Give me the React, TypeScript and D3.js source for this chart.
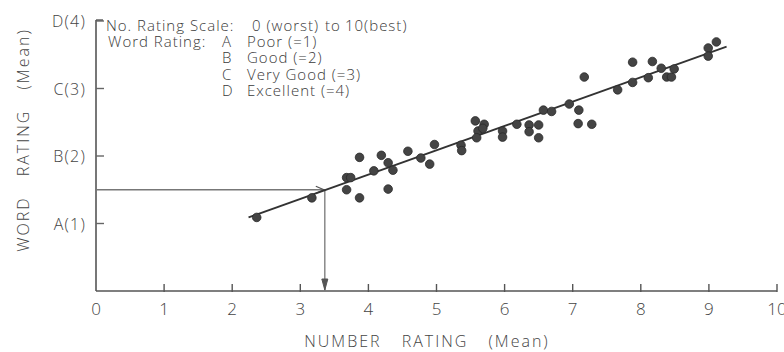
import React from "react";
import * as d3 from "d3";

const numberRating = [2.36, 3.17, 3.68, 3.74, 3.68, 3.87, 3.87, 4.08, 4.19, 4.29, 4.36, 4.29, 4.58, 4.77, 4.9, 4.97, 5.36, 5.37, 5.57, 5.7, 5.61, 5.59, 5.68, 5.97, 5.97, 6.18, 6.36, 6.36, 6.5, 6.5, 6.57, 6.69, 6.95, 7.09, 7.08, 7.28, 7.17, 7.66, 7.88, 7.88, 8.11, 8.17, 8.3, 8.38, 8.45, 8.49, 8.99, 8.99, 9.11];
const wordRating = [1.09, 1.38, 1.68, 1.68, 1.5, 1.98, 1.38, 1.78, 2.01, 1.9, 1.79, 1.51, 2.07, 1.97, 1.88, 2.17, 2.16, 2.08, 2.52, 2.47, 2.37, 2.27, 2.41, 2.37, 2.28, 2.47, 2.46, 2.36, 2.46, 2.27, 2.68, 2.66, 2.77, 2.68, 2.48, 2.47, 3.17, 2.98, 3.09, 3.39, 3.16, 3.4, 3.3, 3.17, 3.17, 3.29, 3.6, 3.48, 3.69];

const fitX = [2.24, 9.26];
const fitY = [1.09, 3.62];
const refPoint = [3.36, 1.5];

const xTicks = [0, 1, 2, 3, 4, 5, 6, 7, 8, 9, 10];
const xTickLabels = ["0", "1", "2", "3", "4", "5", "6", "7", "8", "9", "10"];
const yTicks = [1, 2, 3, 4];
const yTickLabels = ["A(1)", "B(2)", "C(3)", "D(4)"];

const legendHeader = ["No. Rating Scale:", "0 (worst)", "to", "10(best)"];
const legendLetters = ["A", "B", "C", "D"];
const legendWords = ["Poor (=1)", "Good (=2)", "Very Good (=3)", "Excellent (=4)"];

const xTitle = "NUMBER RATING (Mean)";
const yTitle = "WORD RATING (Mean)";

const FONT = "'Open Sans', 'DejaVu Sans', sans-serif";

export default function App() {
  const W = 784, H = 352;
  const x = d3.scaleLinear().domain([0, 10]).range([96, 777]);
  const y = d3.scaleLinear().domain([0, 4]).range([291, 21]);
  const line = d3.line<number>().x((d, i) => x(fitX[i])).y((d, i) => y(fitY[i]));

  const rx = x(refPoint[0]);
  const ry = y(refPoint[1]);
  const y0 = y(0);
  const x0 = x(0);

  return (
    <svg width={W} height={H} style={{ position: "absolute", left: 0, top: 0, background: "#fff" }} fontFamily={FONT}>
      <rect x={0} y={0} width={W} height={H} fill="#fff" />
      {/* axes */}
      <line x1={x0} y1={y0} x2={x(10)} y2={y0} stroke="#555" strokeWidth={1.6} />
      <line x1={x0} y1={y0} x2={x0} y2={y(4) - 1} stroke="#555" strokeWidth={1.6} />
      {xTicks.slice(1).map((t) => (
        <line key={"xt" + t} x1={x(t)} x2={x(t)} y1={y0 - 7} y2={y0 + 1} stroke="#555" strokeWidth={1.4} />
      ))}
      {yTicks.map((t) => (
        <line key={"yt" + t} x1={x0} x2={x0 + 8} y1={y(t)} y2={y(t)} stroke="#666" strokeWidth={1.4} />
      ))}
      {xTicks.map((t, i) => (
        <text key={"xl" + t} x={x(t)} y={315} textAnchor="middle" fontSize={17} fill="#444" fontWeight={300}>
          {xTickLabels[i]}
        </text>
      ))}
      {yTicks.map((t, i) => (
        <text key={"yl" + t} x={86} y={y(t) + 6} textAnchor="end" fontSize={16} fill="#444" letterSpacing={1.2} fontWeight={300}>
          {yTickLabels[i]}
        </text>
      ))}
      {/* axis titles */}
      <text x={427} y={347} textAnchor="middle" fontSize={16} fill="#444" letterSpacing={2} wordSpacing={14} fontWeight={300}>
        {xTitle}
      </text>
      <text transform="translate(29,140) rotate(-90)" textAnchor="middle" fontSize={16} fill="#444" letterSpacing={2} wordSpacing={14} fontWeight={300}>
        {yTitle}
      </text>
      {/* reference lines */}
      <line x1={x0} y1={ry} x2={rx} y2={ry} stroke="#777" strokeWidth={1.3} />
      <path d={`M${rx - 9},${ry - 3.5} L${rx - 1},${ry} L${rx - 9},${ry + 3.5}`} fill="none" stroke="#555" strokeWidth={1.3} />
      <line x1={rx} y1={ry} x2={rx} y2={y0} stroke="#777" strokeWidth={1.3} />
      <path d={`M${rx - 3},${y0 - 12} L${rx},${y0 - 1} L${rx + 3},${y0 - 12} Z`} fill="#555" stroke="#555" strokeWidth={1} />
      {/* regression line */}
      <path d={line(fitX) || ""} fill="none" stroke="#333" strokeWidth={1.7} />
      {/* points */}
      {numberRating.map((v, i) => (
        <circle key={"p" + i} cx={x(v)} cy={y(wordRating[i])} r={4.3} fill="#444" stroke="#2a2a2a" strokeWidth={0.8} />
      ))}
      {/* legend */}
      <line x1={x0} y1={y(4) - 1} x2={x0 + 7} y2={y(4) - 1} stroke="#555" strokeWidth={1.4} />
      <g fontSize={15} fill="#3a3a3a" letterSpacing={1} fontWeight={300}>
        <text x={106} y={31}>{legendHeader[0]}</text>
        <text x={252} y={31}>{legendHeader[1]}</text>
        <text x={325} y={31}>{legendHeader[2]}</text>
        <text x={345} y={31}>{legendHeader[3]}</text>
        <text x={108} y={47}>Word Rating:</text>
        {legendLetters.map((l, i) => (
          <text key={"ll" + l} x={222} y={47 + i * 16.3}>{l}</text>
        ))}
        {legendWords.map((w, i) => (
          <text key={"lw" + i} x={247} y={47 + i * 16.3}>{w}</text>
        ))}
      </g>
    </svg>
  );
}
